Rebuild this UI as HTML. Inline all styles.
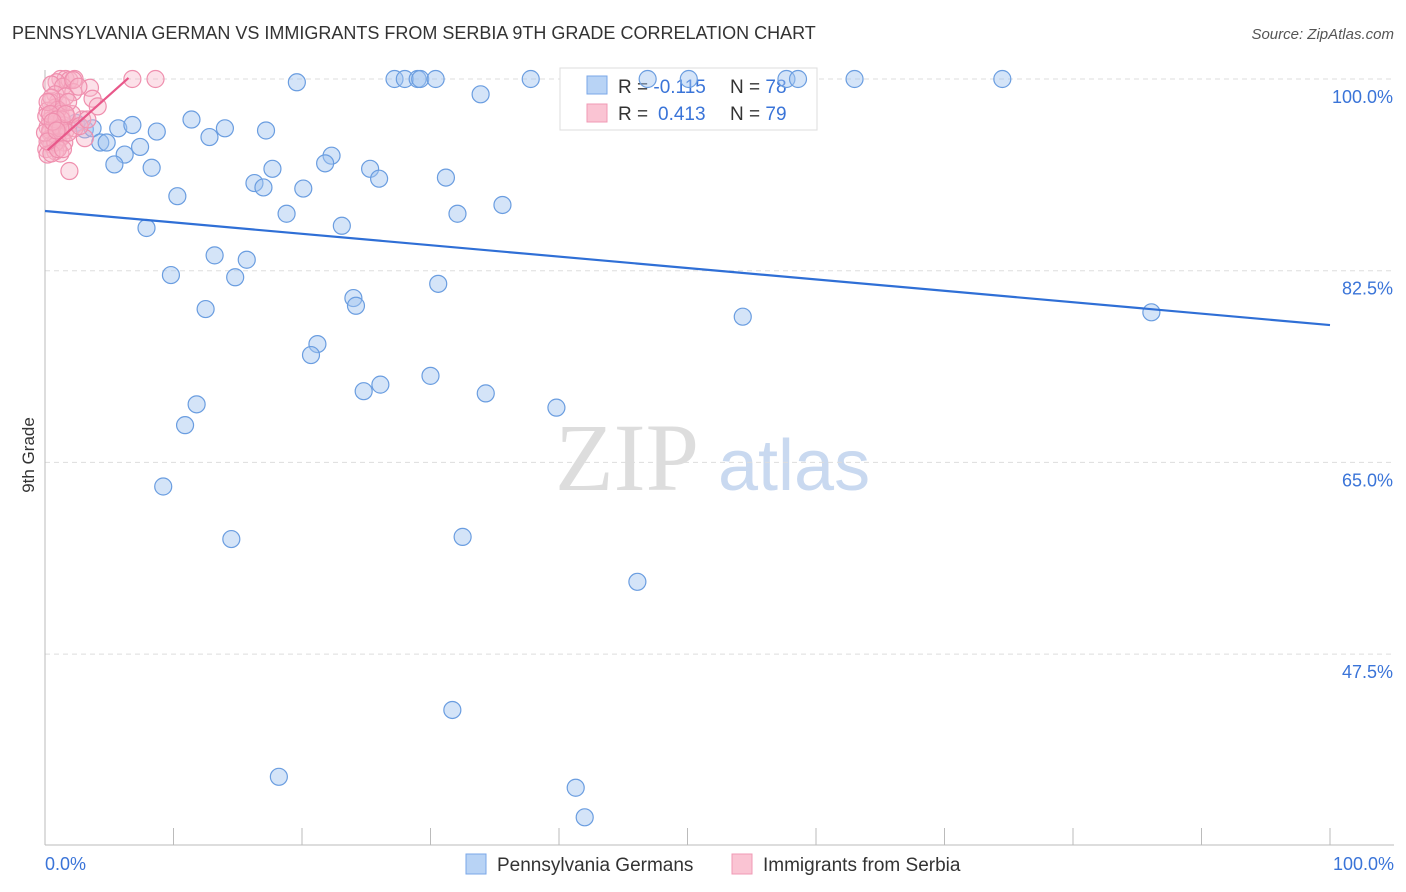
<!DOCTYPE html>
<html><head><meta charset="utf-8"><style>
body{margin:0;background:#fff;font-family:"Liberation Sans",sans-serif;}
svg{display:block}
</style></head><body>
<svg width="1406" height="892" xmlns="http://www.w3.org/2000/svg">
<text x="12" y="39" font-size="18" fill="#333">PENNSYLVANIA GERMAN VS IMMIGRANTS FROM SERBIA 9TH GRADE CORRELATION CHART</text>
<text x="1394" y="39" font-size="15" fill="#555" font-style="italic" text-anchor="end">Source: ZipAtlas.com</text>
<text x="34" y="455" font-size="17" fill="#333" transform="rotate(-90 34 455)" text-anchor="middle">9th Grade</text>
<g><text x="555" y="490" font-size="96" fill="#ddd" font-family="Liberation Serif,serif">ZIP</text><text x="718" y="490" font-size="72" fill="#c9d9f0">atlas</text></g>
<g id="grid"></g><g id="axes"></g>
<g>
<rect x="560" y="68" width="257" height="62" fill="#fff" stroke="#ddd"/>
<rect x="587" y="76" width="20" height="18" fill="#b8d3f5" stroke="#7aa7e8"/>
<rect x="587" y="104" width="20" height="18" fill="#fac4d3" stroke="#f09ab4"/>
<text x="618" y="93" font-size="19" fill="#333">R = <tspan fill="#3a74d8">-0.115</tspan><tspan x="730">N = </tspan><tspan fill="#3a74d8">78</tspan></text>
<text x="618" y="120" font-size="19" fill="#333">R = <tspan fill="#3a74d8" x="658">0.413</tspan><tspan x="730">N = </tspan><tspan fill="#3a74d8">79</tspan></text>
</g>
<g id="marks"></g>
<g>
<rect x="466" y="854" width="20" height="20" fill="#b8d3f5" stroke="#7aa7e8"/>
<text x="497" y="871" font-size="19" fill="#333">Pennsylvania Germans</text>
<rect x="732" y="854" width="20" height="20" fill="#fac4d3" stroke="#f09ab4"/>
<text x="763" y="871" font-size="19" fill="#333">Immigrants from Serbia</text>
</g>
<text x="45" y="870" font-size="18" fill="#3a74d8">0.0%</text>
<text x="1394" y="870" font-size="18" fill="#3a74d8" text-anchor="end">100.0%</text>
</svg>
<script>
const yTicks=[100,82.5,65,47.5];
const yTickLabels=["100.0%","82.5%","65.0%","47.5%"];
const xTicks=[0,10,20,30,40,50,60,70,80,90,100];
const blueX=[19.6,27.2,28.0,29.0,29.2,30.4,37.8,46.9,50.1,57.7,58.6,63.0,74.5,33.9,11.4,2.4,3.1,3.7,5.7,6.8,8.7,14.0,17.2,4.3,4.8,7.4,6.2,12.8,5.4,8.3,22.3,17.7,21.8,25.3,26.0,31.2,16.3,17.0,20.1,10.3,35.6,18.8,32.1,7.9,23.1,13.2,15.7,14.8,9.8,30.6,24.0,24.2,12.5,54.3,86.1,21.2,20.7,26.1,24.8,30.0,34.3,39.8,11.8,10.9,9.2,14.5,32.5,46.1,31.7,18.2,41.3,42.0];
const blueY=[99.7,100,100,100,100,100,100,100,100,100,100,100,100,98.6,96.3,96.0,95.4,95.5,95.5,95.8,95.2,95.5,95.3,94.2,94.2,93.8,93.1,94.7,92.2,91.9,93.0,91.8,92.3,91.8,90.9,91.0,90.5,90.1,90.0,89.3,88.5,87.7,87.7,86.4,86.6,83.9,83.5,81.9,82.1,81.3,80.0,79.3,79.0,78.3,78.7,75.8,74.8,72.1,71.5,72.9,71.3,70.0,70.3,68.4,62.8,58.0,58.2,54.1,42.4,36.3,35.3,32.6];
const pinkX=[6.8,8.6,1.2,1.6,1.9,2.3,0.9,0.5,1.4,3.5,2.2,3.7,4.1,0.8,1.0,0.4,1.3,0.8,0.2,0.6,1.2,1.7,0.4,0.9,1.4,0.2,0.7,1.2,1.6,0.4,0.9,1.3,0.3,1.0,1.5,0.5,0.1,0.8,1.2,0.2,1.9,3.1,2.9,2.3,2.1,1.6,0.5,1.0,0.1,1.3,0.4,0.8,1.8,0.2,0.5,1.0,2.7,3.3,1.8,2.2,2.6,0,0.4,0.9,1.2,1.6,0.6,0.2,0.9,1.4];
const pinkY=[100,100,100,100,99.9,100,99.7,99.5,99.3,99.2,98.8,98.2,97.5,98.6,97.9,97.9,97.6,97.4,97.1,96.8,96.8,96.5,96.2,96.0,95.8,95.6,95.4,95.3,95.3,95.1,94.9,94.7,94.5,94.3,94.2,94.0,93.6,93.4,93.2,93.1,91.6,94.6,96.3,95.5,96.8,98.4,98.3,97.2,96.6,96.3,95.3,94.2,95.1,97.9,93.2,93.6,95.7,96.3,97.9,99.9,99.3,95.1,96.8,96.3,95.5,96.8,96.1,94.3,95.3,93.6];
const blueTrend=[[0,87.95],[100,77.54]];
const pinkTrend=[[0.2,93.5],[6.5,100.1]];
const NS="http://www.w3.org/2000/svg";
const X0=45,X1=1330,Y100=79,PXPER=191.7/17.5;
const sx=v=>X0+(X1-X0)*v/100;
const sy=v=>Y100+(100-v)*PXPER;
function mk(tag,attrs,parent){const e=document.createElementNS(NS,tag);for(const k in attrs)e.setAttribute(k,attrs[k]);parent.appendChild(e);return e;}
const grid=document.getElementById('grid'),axes=document.getElementById('axes'),marks=document.getElementById('marks');
yTicks.forEach((t,i)=>{
 const l=mk('line',{x1:45,x2:1394,y1:sy(t),y2:sy(t),stroke:'#ddd','stroke-dasharray':'5,4'},grid);
 
 
 const tx=mk('text',{x:1393,y:sy(t)+24,'font-size':18,fill:'#3a74d8','text-anchor':'end'},grid);
 tx.textContent=yTickLabels[i];
 
 
});
const ax=mk('line',{x1:45,x2:45,y1:70,y2:845,stroke:'#bbb'},axes);


const bx=mk('line',{x1:45,x2:1394,y1:845,y2:845,stroke:'#bbb'},axes);


xTicks.forEach(t=>{
 const l=mk('line',{x1:sx(t),x2:sx(t),y1:828,y2:845,stroke:'#bbb'},axes);
 
 
});
blueX.forEach((v,i)=>{
 const c=mk('circle',{cx:sx(v),cy:sy(blueY[i]),r:8.5,fill:'rgba(160,196,240,0.45)',stroke:'#6a9de0','stroke-width':1.2},marks);
 
 
});
pinkX.forEach((v,i)=>{
 const c=mk('circle',{cx:sx(v),cy:sy(pinkY[i]),r:8.5,fill:'rgba(248,180,200,0.4)',stroke:'#ef8fae','stroke-width':1.2},marks);
 
 
});
const bl=mk('line',{x1:sx(blueTrend[0][0]),y1:sy(blueTrend[0][1]),x2:sx(blueTrend[1][0]),y2:sy(blueTrend[1][1]),stroke:'#2f6fd6','stroke-width':2.2},marks);


const pl=mk('line',{x1:sx(pinkTrend[0][0]),y1:sy(pinkTrend[0][1]),x2:sx(pinkTrend[1][0]),y2:sy(pinkTrend[1][1]),stroke:'#e8588a','stroke-width':2.2},marks);


</script>
</body></html>
